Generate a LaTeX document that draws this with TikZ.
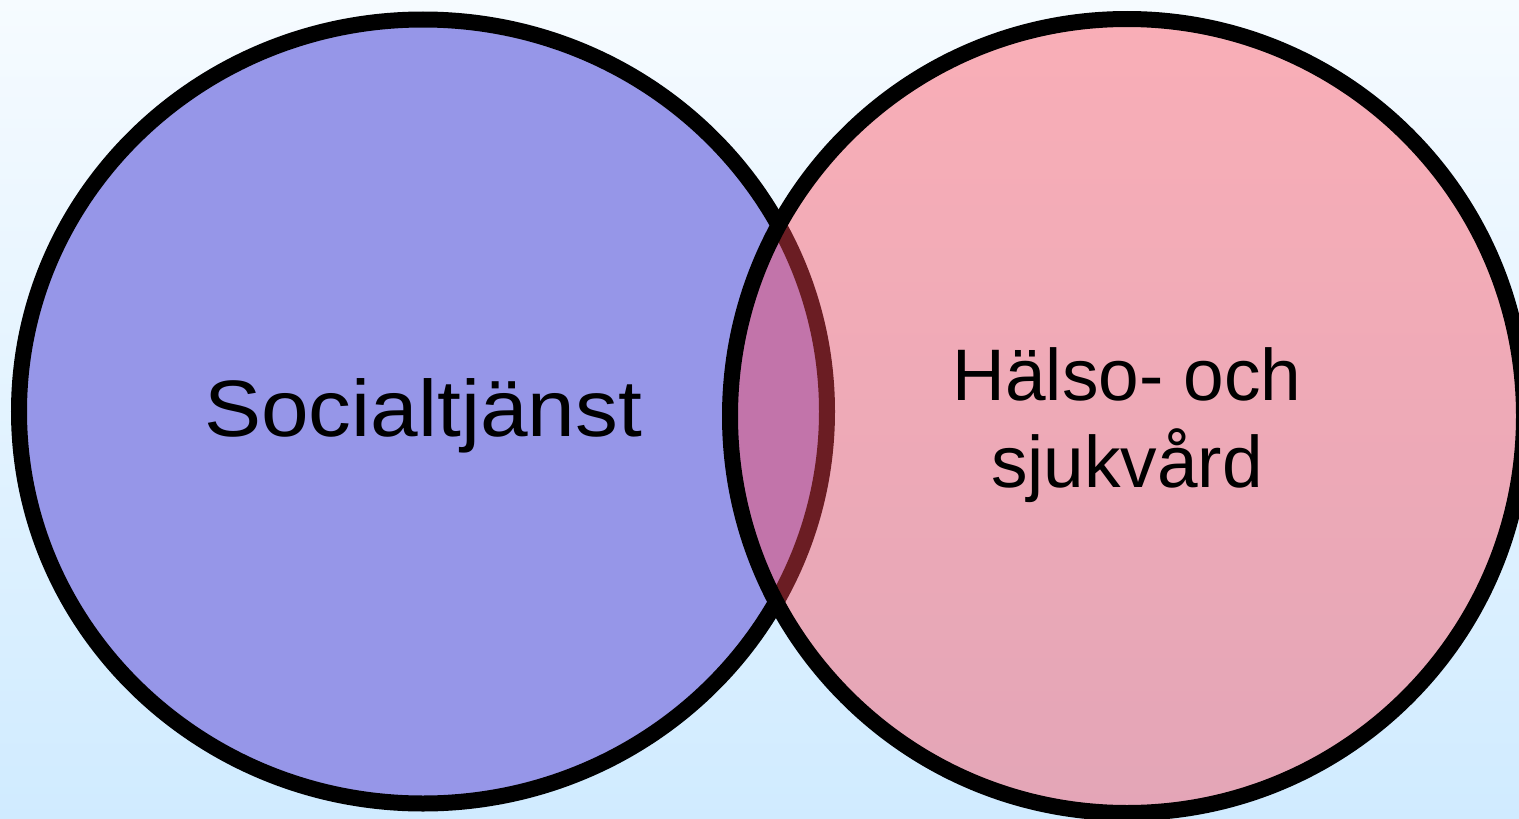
\documentclass[tikz,border=0pt]{standalone}
\usepackage{fontspec}
\setmainfont{Liberation Sans}
\begin{document}
\begin{tikzpicture}[x=1pt,y=-1pt,
  ring/.style={line width=16pt,draw=black},
  lbl/.style={font=\fontsize{73}{87}\selectfont,text=black,align=center,inner sep=0pt}]
\definecolor{bgtop}{RGB}{246,251,255}
\definecolor{bgbot}{RGB}{208,235,255}
\definecolor{bluefill}{RGB}{150,150,232}
\definecolor{redfill}{RGB}{255,70,85}
\useasboundingbox (0,0) rectangle (1519,819);
\clip (0,0) rectangle (1519,819);
\shade[top color=bgtop,bottom color=bgbot] (0,0) rectangle (1519,819);
% left circle
\fill[bluefill] (423,411.5) ellipse [x radius=404, y radius=392];
\draw[ring] (423,411.5) ellipse [x radius=404, y radius=392];
% right circle
\fill[redfill,fill opacity=0.42] (1127,416) circle [radius=397];
\draw[ring] (1127,416) circle [radius=397];
\node[lbl,font=\fontsize{80}{90}\selectfont,anchor=base,xscale=1.07] (soc) at (423,436) {Socialtjänst};
\node[lbl,anchor=base] (hs) at (1127,487) {Hälso- och\\sjukvård};
\end{tikzpicture}
\end{document}
